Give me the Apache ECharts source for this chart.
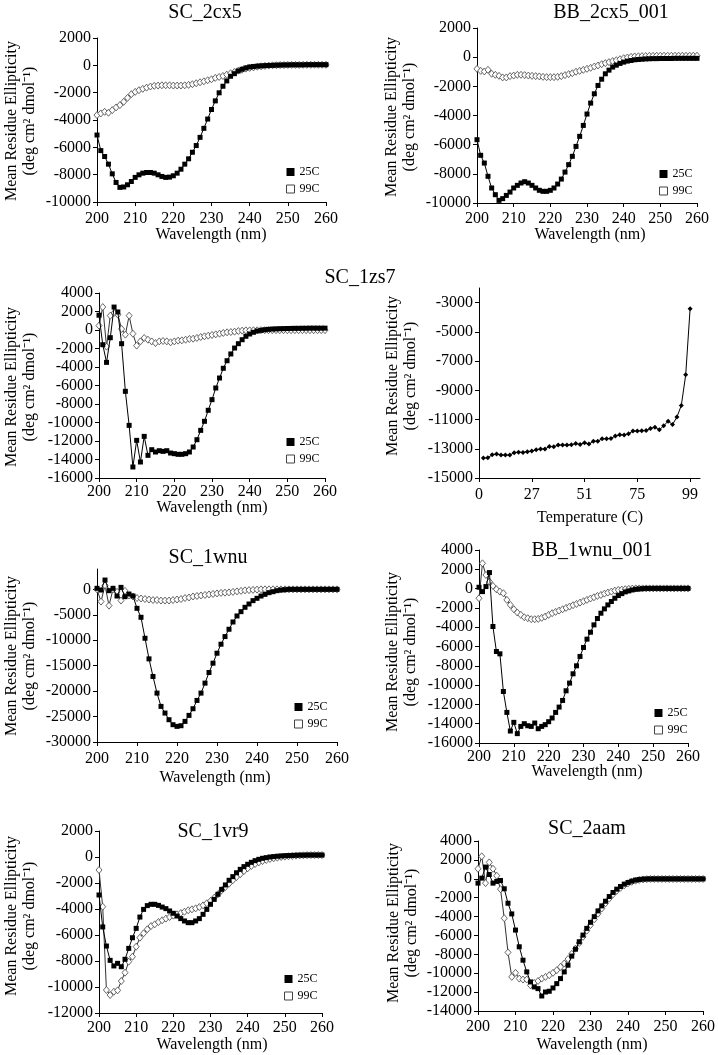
<!DOCTYPE html>
<html><head><meta charset="utf-8">
<script src="https://cdn.jsdelivr.net/npm/echarts@6/dist/echarts.min.js"></script>
<style>html,body{margin:0;padding:0;background:#fff}#c{width:718px;height:1055px}</style>
</head><body><div id="c"></div>
<script>
const wavelength = [200,201,202,203,204,205,206,207,208,209,210,211,212,213,214,215,216,217,218,219,220,221,222,223,224,225,226,227,228,229,230,231,232,233,234,235,236,237,238,239,240,241,242,243,244,245,246,247,248,249,250,251,252,253,254,255,256,257,258,259,260];
const xTicks = [200,210,220,230,240,250,260];

const sc2cx5_25C = [-5100,-6240,-6670,-7230,-7940,-8570,-8930,-8900,-8740,-8500,
 -8200,-8010,-7890,-7840,-7840,-7890,-8010,-8130,-8200,-8180,
 -8080,-7890,-7600,-7230,-6840,-6360,-5870,-5270,-4610,-3930,
 -3230,-2600,-2010,-1530,-1140,-800,-610,-410,-290,-190,
 -120,-90,-60,-40,-20,-10,0,10,20,30,
 30,40,40,40,40,50,50,50,50,50,50];
const sc2cx5_99C = [-3640,-3520,-3400,-3470,-3280,-3080,-2910,-2670,-2380,-2110,
 -1940,-1820,-1720,-1630,-1550,-1500,-1480,-1460,-1460,-1460,
 -1480,-1480,-1480,-1460,-1430,-1380,-1310,-1240,-1170,-1090,
 -1020,-920,-850,-780,-680,-580,-490,-390,-320,-240,
 -190,-150,-100,-70,-40,-20,0,10,20,20,
 30,30,30,30,40,40,40,40,40,40,40];

const bb2cx5_25C = [-5660,-6730,-7260,-8170,-8970,-9430,-9820,-9700,-9480,-9250,
 -8970,-8790,-8630,-8540,-8630,-8790,-8970,-9130,-9200,-9200,
 -9130,-8970,-8700,-8360,-7880,-7370,-6800,-6120,-5430,-4680,
 -3900,-3150,-2510,-1940,-1510,-1140,-890,-680,-550,-430,
 -340,-270,-230,-180,-160,-140,-120,-110,-100,-100,
 -90,-90,-90,-90,-80,-80,-80,-80,-80,-80,-80];
const bb2cx5_99C = [-800,-940,-980,-870,-1140,-1210,-1280,-1390,-1390,-1300,
 -1260,-1210,-1210,-1230,-1260,-1280,-1300,-1320,-1350,-1370,
 -1370,-1370,-1350,-1300,-1230,-1160,-1100,-1000,-940,-870,
 -800,-730,-640,-570,-480,-410,-340,-270,-210,-140,
 -70,-20,20,50,60,70,80,90,90,100,
 100,100,100,100,100,100,100,100,100,100,100];

const sc1zs7_25C = [1600,-1590,-3500,-830,2480,1950,-1480,-6630,-10310,-14810,
 -11930,-14270,-11500,-13550,-12940,-13190,-13050,-13120,-13050,-13300,
 -13370,-13440,-13440,-13370,-13190,-12650,-11860,-10850,-9870,-8680,
 -7530,-6270,-5190,-4140,-3320,-2590,-1950,-1480,-1050,-680,
 -430,-250,-110,-40,30,70,100,120,140,150,
 160,170,180,180,190,190,200,200,200,200,200];
const sc1zs7_99C = [470,2480,-1800,1550,1840,1660,110,-500,1550,-400,
 -1690,-1230,-860,-1050,-1230,-1410,-1230,-1190,-1230,-1330,
 -1230,-1150,-1120,-1050,-970,-940,-860,-760,-680,-610,
 -540,-470,-400,-320,-250,-220,-180,-110,-70,-40,
 -40,-30,-30,-20,-20,-20,-20,-20,-20,-20,
 -20,-20,-20,-20,-20,-20,-20,-20,-20,-20,-20];

const temperature = [5,7,9,11,13,15,17,19,21,23,25,27,29,31,33,35,37,39,41,43,45,47,49,51,53,55,57,59,61,63,65,67,69,71,73,75,77,79,81,83,85,87,89,91,93,95,97,99];
const tempTicks = [0,27,51,75,99];
const sc1zs7_melt = [-13640,-13620,-13410,-13360,-13430,-13430,-13430,-13270,-13230,-13250,
 -13200,-13160,-13070,-13020,-13020,-12840,-12860,-12750,-12750,-12750,
 -12730,-12640,-12700,-12590,-12680,-12480,-12480,-12320,-12320,-12290,
 -12130,-12040,-12060,-11970,-11790,-11790,-11770,-11750,-11610,-11520,
 -11700,-11430,-11110,-11340,-10830,-10040,-7940,-3420];

const sc1wnu_25C = [200,-130,1830,-260,200,-1310,390,-1440,-920,-1310,
 -3730,-5490,-9610,-13660,-17120,-20390,-23000,-24310,-25620,-26600,
 -26930,-26800,-25950,-24770,-23460,-21830,-20390,-18430,-16340,-14510,
 -12550,-10780,-9280,-7840,-6410,-5230,-4380,-3530,-2880,-2220,
 -1760,-1310,-980,-650,-460,-260,-130,-60,0,0,
 0,0,0,0,0,0,0,0,0,0,0];
const sc1wnu_99C = [0,-2400,800,-3200,0,-500,-2200,-300,-1200,-1400,
 -1700,-1800,-1900,-2000,-2100,-2100,-2200,-2200,-2200,-2100,
 -2000,-1900,-1700,-1600,-1400,-1300,-1200,-1100,-1000,-900,
 -800,-700,-650,-600,-500,-400,-300,-200,-150,-100,
 -50,0,0,0,0,0,0,0,0,0,
 0,0,0,0,0,0,0,0,0,0,0];

const bb1wnu_25C = [140,-310,210,1660,-3930,-6520,-6760,-10660,-12830,-14760,
 -13860,-15030,-14280,-14000,-14210,-14280,-13930,-14520,-14280,-14100,
 -13790,-13410,-12830,-12280,-11590,-10590,-9790,-8830,-8000,-7030,
 -6100,-5240,-4520,-3760,-3100,-2550,-2100,-1690,-1340,-1000,
 -720,-520,-340,-240,-140,-70,-30,0,20,20,
 20,20,20,20,20,20,20,20,20,20,20];
const bb1wnu_99C = [-1000,2620,1410,720,280,-70,-310,-480,-1170,-1690,
 -2140,-2480,-2720,-2970,-3070,-3170,-3170,-3140,-3030,-2900,
 -2720,-2550,-2410,-2280,-2140,-2000,-1860,-1720,-1590,-1450,
 -1310,-1170,-1030,-900,-760,-660,-520,-410,-310,-210,
 -140,-100,-60,-30,0,20,20,20,20,20,
 20,20,20,20,20,20,20,20,20,20,20];

const sc1vr9_25C = [-2920,-5380,-6850,-7950,-8380,-8180,-8440,-7870,-7030,-6210,
 -5490,-4620,-4030,-3740,-3640,-3640,-3720,-3850,-3970,-4150,
 -4330,-4540,-4740,-4920,-5050,-5050,-4920,-4740,-4410,-4030,
 -3640,-3260,-2870,-2490,-2150,-1790,-1510,-1210,-950,-740,
 -560,-410,-280,-180,-100,-50,0,30,60,80,
 100,110,120,130,140,140,150,150,150,150,150];
const sc1vr9_99C = [-1000,-3820,-10230,-10620,-10360,-10260,-9540,-8900,-8050,-7670,
 -6900,-6210,-5870,-5560,-5310,-5180,-5000,-4870,-4740,-4620,
 -4510,-4410,-4310,-4210,-4100,-4030,-3950,-3850,-3720,-3560,
 -3380,-3130,-2870,-2560,-2310,-2050,-1790,-1540,-1330,-1080,
 -870,-690,-540,-410,-310,-230,-150,-100,-50,0,
 30,60,80,100,120,130,140,150,150,150,150];

const sc2aam_25C = [-460,70,1240,450,-460,-280,-180,-1060,-2590,-3720,
 -5430,-7200,-8620,-9860,-10920,-11450,-11630,-12410,-11990,-11910,
 -11560,-11100,-10570,-9860,-9150,-8190,-7450,-6670,-5960,-5250,
 -4610,-4010,-3400,-2870,-2380,-1880,-1450,-1100,-820,-570,
 -390,-250,-140,-80,-40,-20,-10,-10,-10,-10,
 -10,-10,-10,-10,-10,-10,-10,-10,-10,-10,-10];
const sc2aam_99C = [1060,2380,-460,1740,1060,320,-1100,-4180,-7800,-10390,
 -9960,-10570,-10670,-10670,-11280,-11030,-10820,-10570,-10390,-10210,
 -9960,-9680,-9330,-8970,-8500,-7950,-7400,-6800,-6150,-5500,
 -4900,-4300,-3700,-3150,-2600,-2100,-1650,-1270,-950,-690,
 -480,-320,-200,-120,-70,-40,-20,-20,-20,-20,
 -20,-20,-20,-20,-20,-20,-20,-20,-20,-20,-20];

const FONT = "'Liberation Serif', serif";
const YNAME = 'Mean Residue Ellipticity\n(deg cm\u00B2 dmol\u207B\u00B9)';

const panels = [
 {title:'SC_2cx5', tp:[205,13], g:[97,38,229,164], y:[-10000,2000,2000], a:sc2cx5_25C, b:sc2cx5_99C, lg:[290,172], xm:9, xn:[211,235], yn:[21,121]},
 {title:'BB_2cx5_001', tp:[611,13], g:[477,28,220,175], y:[-10000,2000,2000], a:bb2cx5_25C, b:bb2cx5_99C, lg:[663,174], xm:8, xn:[590,235], yn:[401,117]},
 {title:'SC_1zs7', tp:[360,278], g:[99,293,226,185], y:[-16000,4000,2000], a:sc1zs7_25C, b:sc1zs7_99C, lg:[290,442], xm:6, xn:[212,508], yn:[21,387]},
 {title:'', temp:true, g:[479,288,221,190], y:[-15000,-2000,2000], xm:9, xn:[590,518], yn:[402,376]},
 {title:'SC_1wnu', tp:[208,558], g:[97,569,240,173], y:[-30000,4000,5000], a:sc1wnu_25C, b:sc1wnu_99C, lg:[298,707], xm:9, xn:[215,778], yn:[21,656]},
 {title:'BB_1wnu_001', tp:[592,551], g:[479,550,209,193], y:[-16000,4000,2000], a:bb1wnu_25C, b:bb1wnu_99C, lg:[658,713], xm:6, xn:[587,772], yn:[402,652]},
 {title:'SC_1vr9', tp:[213,832], g:[99,831,223,182], y:[-12000,2000,2000], a:sc1vr9_25C, b:sc1vr9_99C, lg:[288,979], xm:7, xn:[212,1045], yn:[21,916]},
 {title:'SC_2aam', tp:[587,829], g:[478,841,225,170], y:[-14000,4000,2000], a:sc2aam_25C, b:sc2aam_99C, lg:null, xm:8, xn:[592,1045], yn:[403,923]}
];

const zip = (xs, ys) => xs.map((x, i) => [x, ys[i]]);
const axisCommon = {
  axisLine:{show:true, onZero:false, lineStyle:{color:'#000', width:1}},
  axisTick:{show:true, inside:false, length:4, lineStyle:{color:'#000', width:1}},
  splitLine:{show:false},
};
const labelStyle = {color:'#000', fontFamily:FONT, fontSize:16};

const option = {animation:false, backgroundColor:'#fff', title:[], grid:[], xAxis:[], yAxis:[], series:[], legend:[], graphic:[]};

panels.forEach((p, i) => {
  option.grid.push({left:p.g[0], top:p.g[1], width:p.g[2], height:p.g[3], outerBoundsMode:'none', containLabel:false});
  if (p.title) option.title.push({text:p.title, left:p.tp[0], top:p.tp[1], textAlign:'center', textVerticalAlign:'middle', padding:0,
    textStyle:{fontFamily:FONT, fontSize:20, fontWeight:'normal', color:'#000'}});
  if (p.temp) {
    option.xAxis.push(Object.assign({type:'value', gridIndex:i, min:3, max:103.5, interval:24,
      axisLabel:Object.assign({margin:p.xm, showMaxLabel:false, formatter:v => (v === 3 ? String(tempTicks[0]) : String(v))}, labelStyle)}, axisCommon));
  } else {
    option.xAxis.push(Object.assign({type:'value', gridIndex:i, min:xTicks[0], max:xTicks[xTicks.length-1], interval:10,
      axisLabel:Object.assign({margin:p.xm, formatter:v => String(v)}, labelStyle)}, axisCommon));
  }
  option.yAxis.push(Object.assign({type:'value', gridIndex:i, min:p.y[0], max:p.y[1], interval:p.y[2],
    axisLabel:Object.assign({margin:6, showMaxLabel:(p.y[1]-p.y[0]) % p.y[2] === 0, formatter:v => String(v)}, labelStyle)}, axisCommon));
  if (p.temp) {
    option.series.push({type:'line', name:'melt', xAxisIndex:i, yAxisIndex:i, data:zip(temperature, sc1zs7_melt),
      symbol:'diamond', symbolSize:5, itemStyle:{color:'#000'}, lineStyle:{color:'#000', width:1}, silent:true});
  } else {
    option.series.push({type:'line', name:'99C', xAxisIndex:i, yAxisIndex:i, data:zip(wavelength, p.b), z:2,
      symbol:'diamond', symbolSize:[6,7], itemStyle:{color:'#fff', borderColor:'#444', borderWidth:0.8},
      lineStyle:{color:'#333', width:1}, silent:true});
    option.series.push({type:'line', name:'25C', xAxisIndex:i, yAxisIndex:i, data:zip(wavelength, p.a), z:3,
      symbol:'rect', symbolSize:5, itemStyle:{color:'#000'}, lineStyle:{color:'#000', width:1}, silent:true});
  }
  if (p.lg) option.legend.push({orient:'vertical', left:p.lg[0]-4, top:p.lg[1]-6, padding:0, itemWidth:8, itemHeight:8, itemGap:5,
    selectedMode:false, icon:'rect', textStyle:{fontFamily:FONT, fontSize:12, color:'#000', lineHeight:12},
    data:[{name:'25C', itemStyle:{color:'#000', borderWidth:0}}, {name:'99C', itemStyle:{color:'#fff', borderColor:'#444', borderWidth:1}}]});
  option.graphic.push({type:'text', x:p.xn[0], y:p.xn[1], silent:true,
    style:{text: p.temp ? 'Temperature (C)' : 'Wavelength (nm)', font:'16px ' + FONT, fill:'#000', align:'center', verticalAlign:'middle'}});
  option.graphic.push({type:'text', x:p.yn[0], y:p.yn[1], rotation:Math.PI/2, silent:true,
    style:{text:YNAME, font:'16px ' + FONT, fill:'#000', align:'center', verticalAlign:'middle', lineHeight:18}});
});

const chart = echarts.init(document.getElementById('c'), null, {renderer:'canvas'});
chart.setOption(option);
</script></body></html>
